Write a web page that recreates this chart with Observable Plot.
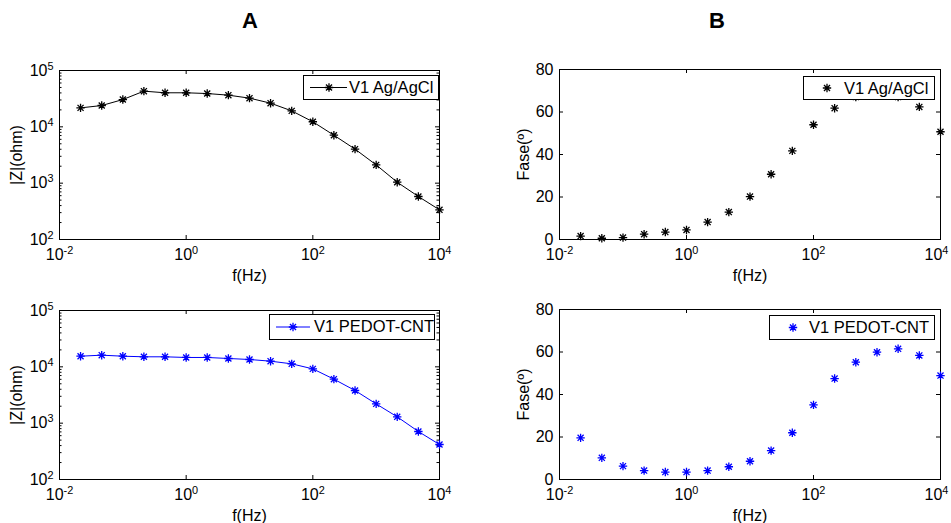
<!DOCTYPE html>
<html>
<head>
<meta charset="utf-8">
<script src="https://cdn.jsdelivr.net/npm/d3@7"></script>
<script src="https://cdn.jsdelivr.net/npm/@observablehq/plot@0.6"></script>
<style>
  html, body { margin: 0; padding: 0; background: white; }
  #root { position: relative; width: 951px; height: 523px; background: white; font-family: "Liberation Sans", Arial, sans-serif; overflow: hidden; }
  .panel { position: absolute; }
  .panel svg { overflow: visible; background: transparent; }
  .title { position: absolute; font-weight: bold; font-size: 22px; transform: translateX(-50%); }
  .legend { position: absolute; background: white; border: 1px solid #000; box-sizing: border-box; font-size: 16.5px; color: #000; }
  .legend span { position: absolute; white-space: nowrap; }
  .legend svg { position: absolute; left: 0; top: 0; overflow: visible; }
</style>
</head>
<body>
<div id="root"></div>
<script>
// ---------- data ----------
const freq = [0.0215, 0.0464, 0.1, 0.215, 0.464, 1, 2.15, 4.64, 10, 21.5, 46.4, 100, 215, 464, 1000, 2150, 4640, 10000];
const zAgAgCl = [21700, 23900, 30500, 43000, 40200, 40200, 39000, 36500, 32300, 26300, 19200, 12300, 7100, 4020, 2110, 1040, 580, 336];
const phaseAgAgCl = [1.6, 0.6, 0.9, 2.5, 3.5, 4.5, 8.2, 12.9, 20.2, 30.7, 41.7, 54.0, 61.8, 67, 68, 67, 62.4, 50.7];
const zPedot = [15450, 16100, 15450, 15070, 15070, 14660, 14660, 14060, 13500, 12600, 11300, 9200, 6040, 3800, 2200, 1295, 711, 418];
const phasePedot = [19.6, 10.2, 6.3, 4.2, 3.5, 3.5, 4.2, 6.0, 8.6, 13.6, 22.0, 35.1, 47.5, 55.2, 59.9, 61.5, 58.4, 48.9];

const seriesNames = ["V1 Ag/AgCl", "V1 PEDOT-CNT"];
const seriesColors = ["#000000", "#0000ff"];
const panelTitles = ["A", "B"];

const xTicks = [0.01, 1, 100, 10000];
const xTickLabels = ["10^-2", "10^0", "10^2", "10^4"];
const zTicks = [100, 1000, 10000, 100000];
const zTickLabels = ["10^2", "10^3", "10^4", "10^5"];
const zMinorTicks = [200,300,400,500,600,700,800,900,2000,3000,4000,5000,6000,7000,8000,9000,20000,30000,40000,50000,60000,70000,80000,90000];
const phaseTicks = [0, 20, 40, 60, 80];

const xLabel = "f(Hz)";
const zLabel = "|Z|(ohm)";
const phaseLabel = "Fase(º)";

// ---------- helpers ----------
const asterisk = {
  draw(ctx, size) {
    const r = Math.sqrt(size / Math.PI);
    const d = r * 0.72;
    ctx.moveTo(0, -r); ctx.lineTo(0, r);
    ctx.moveTo(-r, 0); ctx.lineTo(r, 0);
    ctx.moveTo(-d, -d); ctx.lineTo(d, d);
    ctx.moveTo(-d, d); ctx.lineTo(d, -d);
  }
};

const xLabelMap = new Map(xTicks.map((t, i) => [t, xTickLabels[i]]));
const zLabelMap = new Map(zTicks.map((t, i) => [t, zTickLabels[i]]));

function superscriptTicks(svg, nudgeLast) {
  d3.select(svg).selectAll("g[aria-label$='tick label'] text").each(function () {
    const t = this.textContent;
    if (!t.includes("^")) return;
    const [base, exp] = t.split("^");
    const sel = d3.select(this);
    sel.text(null);
    sel.append("tspan").text(base);
    sel.append("tspan").attr("dy", "-0.55em").attr("font-size", "0.68em").text(exp);
    if (nudgeLast && t === xTickLabels[xTickLabels.length - 1]) {
      const g = this.parentNode;
      if (g.getAttribute("aria-label").startsWith("x")) sel.attr("dx", -4);
    }
  });
}

const root = document.getElementById("root");

function addPanel({left, top, width, height, mt, mr, mb, ml, log, values, color, withLine, legend}) {
  const fw = width - ml - mr, fh = height - mt - mb;
  const yTicks = log ? zTicks : phaseTicks;
  const rows = freq.map((f, i) => ({f, v: values[i]}));
  const marks = [
    Plot.frame({stroke: "#000", strokeWidth: 1}),
    // inward major ticks
    Plot.ruleX(xTicks, {x: d => d, insetTop: fh - 4, stroke: "#000"}),
    Plot.ruleX(xTicks, {x: d => d, insetBottom: fh - 4, stroke: "#000"}),
    Plot.ruleY(yTicks, {y: d => d, insetRight: fw - 4, stroke: "#000"}),
    Plot.ruleY(yTicks, {y: d => d, insetLeft: fw - 4, stroke: "#000"}),
    log ? Plot.ruleY(zMinorTicks, {y: d => d, insetRight: fw - 2.5, stroke: "#000"}) : null,
    log ? Plot.ruleY(zMinorTicks, {y: d => d, insetLeft: fw - 2.5, stroke: "#000"}) : null,
    Plot.axisX({ticks: xTicks, tickFormat: d => xLabelMap.get(d) ?? "", tickSize: 0, tickPadding: 9, label: xLabel, labelAnchor: "center", labelArrow: "none", labelOffset: 41}),
    Plot.axisY({ticks: yTicks, tickFormat: log ? (d => zLabelMap.get(d) ?? "") : (d => String(d)), tickSize: 0, tickPadding: 6, label: log ? zLabel : phaseLabel, labelAnchor: "center", labelArrow: "none", labelOffset: log ? 49 : 42}),
    withLine ? Plot.line(rows, {x: "f", y: "v", stroke: color, strokeWidth: 1}) : null,
    Plot.dot(rows, {x: "f", y: "v", symbol: asterisk, r: 4.2, stroke: color, strokeWidth: 1.3, fill: "none"})
  ];
  const svg = Plot.plot({
    width, height,
    marginLeft: ml, marginRight: mr, marginTop: mt, marginBottom: mb,
    style: {fontFamily: "Liberation Sans, Arial, sans-serif", fontSize: "16px", color: "#000", background: "transparent", overflow: "visible"},
    x: {type: "log", domain: [0.01, 10000]},
    y: log ? {type: "log", domain: [100, 100000]} : {type: "linear", domain: [0, 80]},
    marks
  });
  superscriptTicks(svg, left > 0);
  const wrap = document.createElement("div");
  wrap.className = "panel";
  wrap.style.left = left + "px";
  wrap.style.top = top + "px";
  wrap.appendChild(svg);
  root.appendChild(wrap);

  // legend box (inside plot area)
  const lg = document.createElement("div");
  lg.className = "legend";
  lg.style.left = legend.x + "px";
  lg.style.top = legend.y + "px";
  lg.style.width = legend.w + "px";
  lg.style.height = legend.h + "px";
  const ls = d3.create("svg").attr("width", legend.w).attr("height", legend.h);
  const cy = legend.h / 2 - 1;
  if (withLine) ls.append("line").attr("x1", legend.lx1).attr("x2", legend.lx2).attr("y1", cy).attr("y2", cy).attr("stroke", color).attr("stroke-width", 1);
  ls.append("path").attr("transform", `translate(${legend.mx},${cy})`).attr("d", d3.symbol(asterisk, Math.PI * 4.2 * 4.2)()).attr("stroke", color).attr("stroke-width", 1.3).attr("fill", "none");
  lg.appendChild(ls.node());
  const sp = document.createElement("span");
  sp.textContent = legend.text;
  sp.style.left = legend.tx + "px";
  sp.style.top = "2px";
  lg.appendChild(sp);
  root.appendChild(lg);
}

// titles
panelTitles.forEach((t, i) => {
  const el = document.createElement("div");
  el.className = "title";
  el.textContent = t;
  el.style.left = (i === 0 ? 250 : 717) + "px";
  el.style.top = "8px";
  root.appendChild(el);
});

addPanel({left: 0, top: 40, width: 470, height: 240, mt: 30, mr: 31, mb: 41, ml: 59, log: true, values: zAgAgCl, color: seriesColors[0], withLine: true,
  legend: {x: 303, y: 75, w: 136, h: 25, lx1: 6, lx2: 43, mx: 25, tx: 45, text: seriesNames[0]}});
addPanel({left: 475, top: 40, width: 476, height: 240, mt: 29, mr: 11, mb: 41, ml: 84, log: false, values: phaseAgAgCl, color: seriesColors[0], withLine: false,
  legend: {x: 803, y: 76, w: 132, h: 24, mx: 23, tx: 40, text: seriesNames[0]}});
addPanel({left: 0, top: 280, width: 470, height: 240, mt: 30, mr: 31, mb: 41, ml: 59, log: true, values: zPedot, color: seriesColors[1], withLine: true,
  legend: {x: 269, y: 314, w: 166, h: 26, lx1: 6, lx2: 40, mx: 23, tx: 44, text: seriesNames[1]}});
addPanel({left: 475, top: 280, width: 476, height: 240, mt: 29, mr: 11, mb: 41, ml: 84, log: false, values: phasePedot, color: seriesColors[1], withLine: false,
  legend: {x: 769, y: 315, w: 166, h: 25, mx: 23, tx: 39, text: seriesNames[1]}});
</script>
</body>
</html>
